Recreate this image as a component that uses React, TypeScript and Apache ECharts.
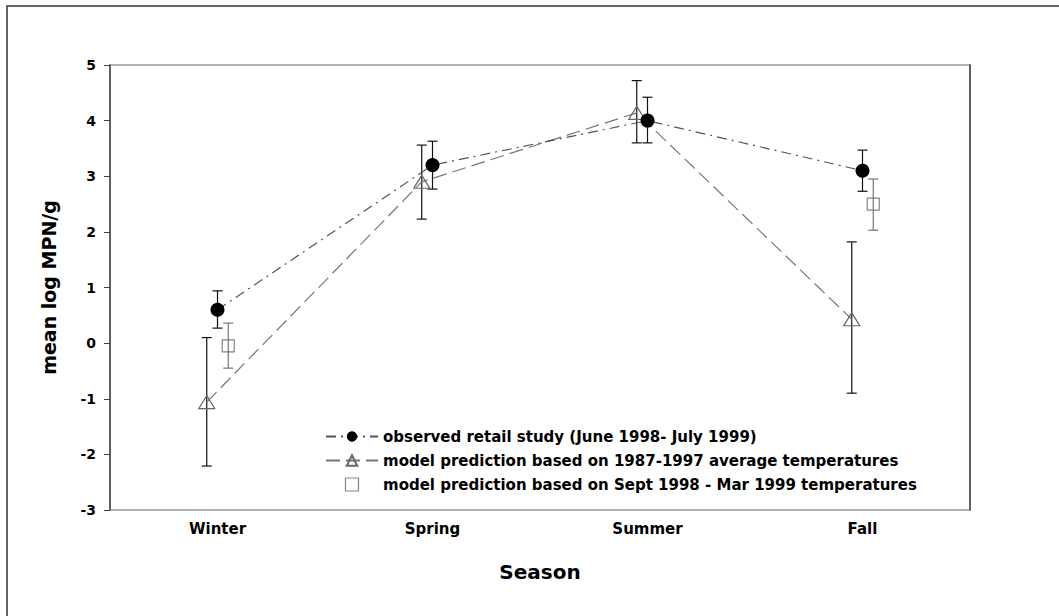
import React, { useEffect, useRef } from "react";
import * as echarts from "echarts";

const seasons = ["Winter", "Spring", "Summer", "Fall"];
const seasonPos = [1, 2, 3, 4];

const observedMean = [0.6, 3.2, 4.0, 3.1];
const observedLow = [0.27, 2.77, 3.6, 2.73];
const observedHigh = [0.94, 3.63, 4.42, 3.47];

const avgModelMean = [-1.06, 2.9, 4.14, 0.43];
const avgModelLow = [-2.21, 2.23, 3.6, -0.9];
const avgModelHigh = [0.1, 3.56, 4.72, 1.82];

const recentModelMean = [-0.05, null, null, 2.5];
const recentModelLow = [-0.45, null, null, 2.03];
const recentModelHigh = [0.36, null, null, 2.95];

const yTicks = [-3, -2, -1, 0, 1, 2, 3, 4, 5];

const nameObs = "observed retail study (June 1998- July 1999)";
const nameAvg = "model prediction based on 1987-1997 average temperatures";
const nameRecent = "model prediction based on Sept 1998 - Mar 1999 temperatures";

const FONT = "DejaVu Sans";

export default function App() {
  const ref = useRef<HTMLDivElement>(null);

  useEffect(() => {
    if (!ref.current) return;
    const chart = echarts.init(ref.current, null, { renderer: "svg" });

    const offAvg = -0.05;
    const offObs = 0;
    const offRecent = 0.05;

    const pts = (mean: (number | null)[], off: number) =>
      mean
        .map((v, i) => (v === null ? null : [seasonPos[i] + off, v]))
        .filter((d) => d !== null);
    const bars = (lo: (number | null)[], hi: (number | null)[], off: number) =>
      lo
        .map((v, i) => (v === null ? null : [seasonPos[i] + off, v, hi[i]]))
        .filter((d) => d !== null);

    const errRender = (color: string) => (params: any, api: any) => {
      const x = api.value(0);
      const lo = api.value(1);
      const hi = api.value(2);
      const a = api.coord([x, lo]);
      const b = api.coord([x, hi]);
      const w = 5;
      const st = { stroke: color, lineWidth: 1.2 };
      return {
        type: "group",
        children: [
          { type: "line", shape: { x1: a[0], y1: a[1], x2: b[0], y2: b[1] }, style: st },
          { type: "line", shape: { x1: a[0] - w, y1: a[1], x2: a[0] + w, y2: a[1] }, style: st },
          { type: "line", shape: { x1: b[0] - w, y1: b[1], x2: b[0] + w, y2: b[1] }, style: st },
        ],
      };
    };

    const option: any = {
      animation: false,
      backgroundColor: "#ffffff",
      graphic: [
        {
          type: "rect",
          shape: { x: 7, y: 6, width: 1200, height: 800 },
          style: { fill: "none", stroke: "#333", lineWidth: 1.5 },
          silent: true,
        },
      ],
      grid: {
        left: 110,
        right: 89,
        top: 65,
        bottom: 106,
        show: true,
        borderColor: "#999",
        borderWidth: 1.5,
      },
      legend: {
        data: [
          { name: nameObs },
          { name: nameAvg },
          {
            name: nameRecent,
            icon: "path://M0,0H10V10H0Z",
            itemStyle: { color: "rgba(255,255,255,0)", borderColor: "#666", borderWidth: 1.2 },
          },
        ],
        orient: "vertical",
        left: 320,
        top: 424,
        itemWidth: 52,
        itemHeight: 13,
        itemGap: 9,
        textStyle: { fontFamily: FONT, fontWeight: "bold", fontSize: 15, color: "#000" },
      },
      xAxis: [
        {
          type: "category",
          data: seasons,
          boundaryGap: true,
          axisLine: { show: false },
          axisTick: { show: false },
          axisLabel: {
            fontFamily: FONT,
            fontWeight: "bold",
            fontSize: 15,
            color: "#000",
            margin: 11,
          },
          name: "Season",
          nameLocation: "middle",
          nameGap: 52,
          nameTextStyle: { fontFamily: FONT, fontWeight: "bold", fontSize: 20, color: "#000" },
          splitLine: { show: false },
        },
        {
          type: "value",
          min: 0.5,
          max: 4.5,
          position: "bottom",
          show: false,
        },
      ],
      yAxis: [
        {
          type: "value",
          min: -3,
          max: 5,
          interval: 1,
          axisLine: { show: true, lineStyle: { color: "#444", width: 1.5 } },
          axisTick: { show: true, length: 6, lineStyle: { color: "#444" } },
          axisLabel: {
            fontFamily: FONT,
            fontWeight: "bold",
            fontSize: 14,
            color: "#000",
            margin: 14,
            formatter: (v: number) => (yTicks.includes(v) ? String(v) : ""),
          },
          splitLine: { show: false },
          name: "mean log MPN/g",
          nameLocation: "middle",
          nameGap: 52,
          nameTextStyle: { fontFamily: FONT, fontWeight: "bold", fontSize: 19, color: "#000" },
        },
        {
          type: "value",
          min: -3,
          max: 5,
          interval: 1,
          position: "right",
          axisLine: { show: true, lineStyle: { color: "#444", width: 1.5 } },
          axisTick: { show: false },
          axisLabel: { show: false },
          splitLine: { show: false },
        },
      ],
      series: [
        {
          name: nameAvg,
          type: "line",
          xAxisIndex: 1,
          yAxisIndex: 0,
          data: pts(avgModelMean, offAvg),
          symbol: "triangle",
          symbolSize: [16, 13],
          lineStyle: { color: "#777", width: 1.2, type: [14, 6] },
          itemStyle: { color: "rgba(255,255,255,0)", borderColor: "#666", borderWidth: 1.2 },
          z: 3,
        },
        {
          name: nameObs,
          type: "line",
          xAxisIndex: 1,
          yAxisIndex: 0,
          data: pts(observedMean, offObs),
          symbol: "circle",
          symbolSize: 14,
          lineStyle: { color: "#555", width: 1.2, type: [10, 5, 2, 5] },
          itemStyle: { color: "#000", borderColor: "#000", borderWidth: 0 },
          z: 4,
        },
        {
          name: nameRecent,
          type: "scatter",
          xAxisIndex: 1,
          yAxisIndex: 0,
          data: pts(recentModelMean, offRecent),
          symbol: "rect",
          symbolSize: 12,
          itemStyle: { color: "rgba(255,255,255,0)", borderColor: "#666", borderWidth: 1.2 },
          z: 4,
        },
        {
          type: "custom",
          xAxisIndex: 1,
          yAxisIndex: 0,
          data: bars(avgModelLow, avgModelHigh, offAvg),
          encode: { x: 0, y: [1, 2] },
          renderItem: errRender("#111"),
          z: 2,
        },
        {
          type: "custom",
          xAxisIndex: 1,
          yAxisIndex: 0,
          data: bars(observedLow, observedHigh, offObs),
          encode: { x: 0, y: [1, 2] },
          renderItem: errRender("#111"),
          z: 2,
        },
        {
          type: "custom",
          xAxisIndex: 1,
          yAxisIndex: 0,
          data: bars(recentModelLow, recentModelHigh, offRecent),
          encode: { x: 0, y: [1, 2] },
          renderItem: errRender("#777"),
          z: 2,
        },
      ],
    };

    chart.setOption(option);
    return () => chart.dispose();
  }, []);

  return (
    <div
      ref={ref}
      style={{ position: "fixed", left: 0, top: 0, width: 1059, height: 616, background: "#fff" }}
    />
  );
}
